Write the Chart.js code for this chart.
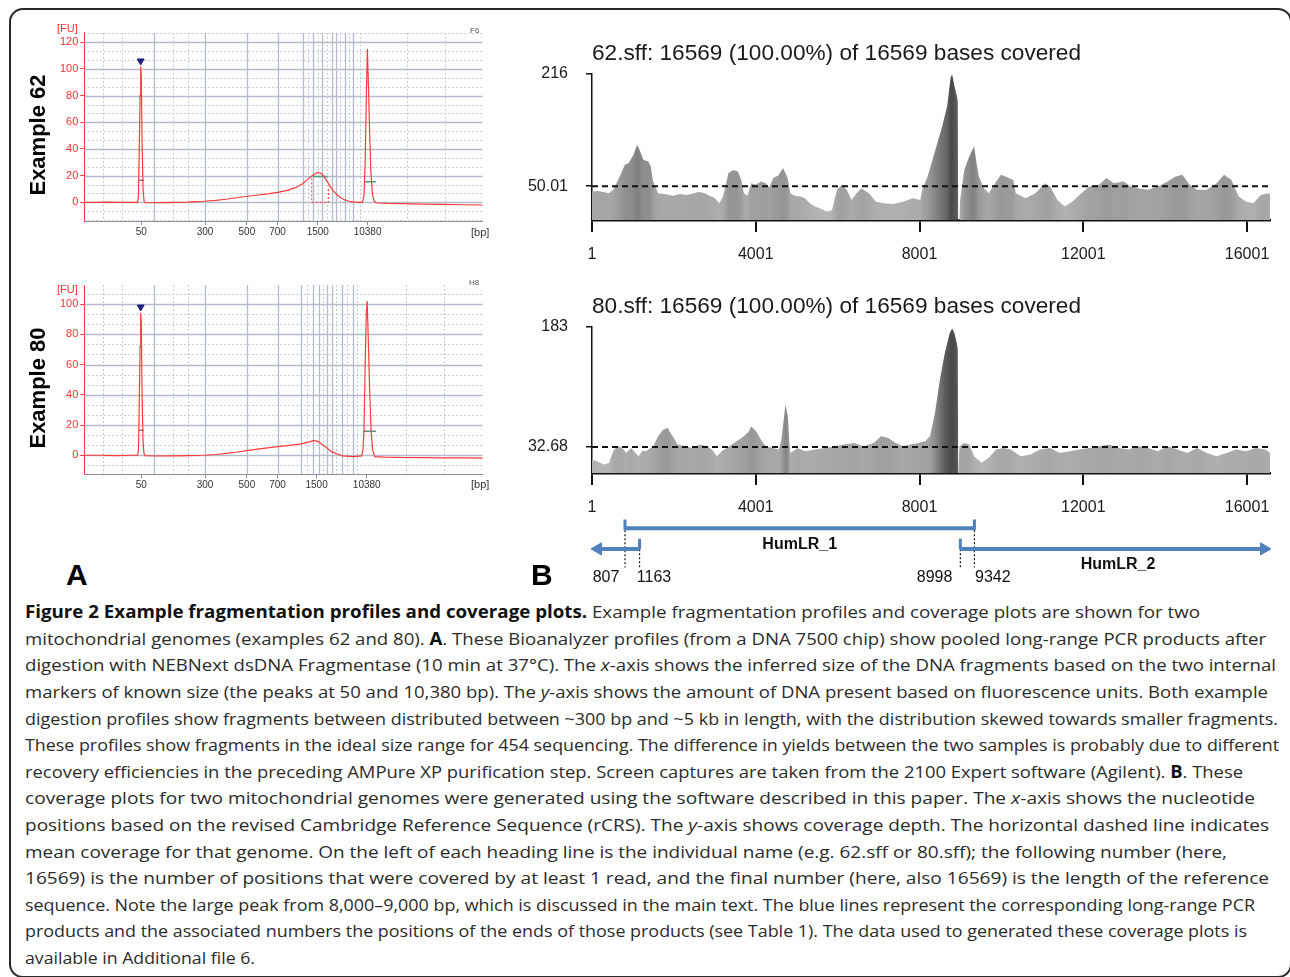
<!DOCTYPE html>
<html>
<head>
<meta charset="utf-8">
<script src="https://cdn.jsdelivr.net/npm/chart.js@4.4.1/dist/chart.umd.min.js"></script>
<style>
  body { margin: 0; width: 1290px; height: 977px; overflow: hidden; position: relative; background: #fff;
         font-family: "Liberation Sans", Arial, sans-serif; }
  canvas { position: absolute; }
  .abs { position: absolute; white-space: nowrap; }
  #frame { position: absolute; left: 9px; top: 8px; width: 1283px; height: 970px; border: 2px solid #2a2a2a;
           border-radius: 14px; box-sizing: border-box; }
  .cap { position: absolute; left: 25px; white-space: nowrap; font-family: "Open Sans", sans-serif; font-size: 17px;
         line-height: 20px; color: #2b2b2b; transform-origin: 0 50%; }
  .cap b { color: #111; }
  .ex { position: absolute; font-weight: bold; font-size: 22px; color: #000; transform: translate(-50%, -50%) rotate(-90deg); }
  .panel { font-weight: bold; font-size: 30px; color: #000; }
  .unit { font-size: 11px; color: #333; }
  .ttl { font-size: 22px; color: #1a1a1a; transform-origin: 0 50%; }
</style>
</head>
<body>
<div id="frame"></div>

<canvas id="a62" width="460" height="230" style="left:40px;top:20px"></canvas>
<canvas id="a80" width="460" height="225" style="left:40px;top:275px"></canvas>
<canvas id="b62" width="770" height="220" style="left:520px;top:55px"></canvas>
<canvas id="b80" width="770" height="220" style="left:520px;top:308px"></canvas>
<canvas id="pcr" width="770" height="90" style="left:520px;top:505px"></canvas>

<div class="ex" style="left:38px;top:135px">Example 62</div>
<div class="ex" style="left:38px;top:388px">Example 80</div>
<div class="abs unit" style="left:57px;top:22px;color:#ff3030">[FU]</div>
<div class="abs unit" style="left:57px;top:283px;color:#ff3030">[FU]</div>
<div class="abs unit" style="left:471px;top:226px">[bp]</div>
<div class="abs unit" style="left:471px;top:478px">[bp]</div>
<div class="abs" style="left:470px;top:26px;font-size:8px;color:#555">F6</div>
<div class="abs" style="left:469px;top:278px;font-size:8px;color:#555">H8</div>
<div class="abs panel" style="left:66px;top:558px">A</div>
<div class="abs panel" style="left:531px;top:558px">B</div>
<div class="abs ttl fit" data-w="489" style="left:592px;top:40px">62.sff: 16569 (100.00%) of 16569 bases covered</div>
<div class="abs ttl fit" data-w="489" style="left:592px;top:293px">80.sff: 16569 (100.00%) of 16569 bases covered</div>

<div class="cap fit" data-w="1175" style="top:602px"><b>Figure 2 Example fragmentation profiles and coverage plots.</b> Example fragmentation profiles and coverage plots are shown for two</div>
<div class="cap fit" data-w="1241" style="top:629px">mitochondrial genomes (examples 62 and 80). <b>A</b>. These Bioanalyzer profiles (from a DNA 7500 chip) show pooled long-range PCR products after</div>
<div class="cap fit" data-w="1251" style="top:655px">digestion with NEBNext dsDNA Fragmentase (10 min at 37°C). The <i>x</i>-axis shows the inferred size of the DNA fragments based on the two internal</div>
<div class="cap fit" data-w="1243" style="top:682px">markers of known size (the peaks at 50 and 10,380 bp). The <i>y</i>-axis shows the amount of DNA present based on fluorescence units. Both example</div>
<div class="cap fit" data-w="1253" style="top:709px">digestion profiles show fragments between distributed between ~300 bp and ~5 kb in length, with the distribution skewed towards smaller fragments.</div>
<div class="cap fit" data-w="1254" style="top:735px">These profiles show fragments in the ideal size range for 454 sequencing. The difference in yields between the two samples is probably due to different</div>
<div class="cap fit" data-w="1218" style="top:762px">recovery efficiencies in the preceding AMPure XP purification step. Screen captures are taken from the 2100 Expert software (Agilent). <b>B</b>. These</div>
<div class="cap fit" data-w="1230" style="top:788px">coverage plots for two mitochondrial genomes were generated using the software described in this paper. The <i>x</i>-axis shows the nucleotide</div>
<div class="cap fit" data-w="1244" style="top:815px">positions based on the revised Cambridge Reference Sequence (rCRS). The <i>y</i>-axis shows coverage depth. The horizontal dashed line indicates</div>
<div class="cap fit" data-w="1202" style="top:842px">mean coverage for that genome. On the left of each heading line is the individual name (e.g. 62.sff or 80.sff); the following number (here,</div>
<div class="cap fit" data-w="1244" style="top:868px">16569) is the number of positions that were covered by at least 1 read, and the final number (here, also 16569) is the length of the reference</div>
<div class="cap fit" data-w="1230" style="top:895px">sequence. Note the large peak from 8,000–9,000 bp, which is discussed in the main text. The blue lines represent the corresponding long-range PCR</div>
<div class="cap fit" data-w="1222" style="top:921px">products and the associated numbers the positions of the ends of those products (see Table 1). The data used to generated these coverage plots is</div>
<div class="cap fit" data-w="230" style="top:948px">available in Additional file 6.</div>

<script>
Chart.defaults.font.family = '"Liberation Sans", Arial, sans-serif';

// ---- Panel A: Bioanalyzer traces, x = migration position (% of the plotted window) ----
const a62Pos = [0, 3, 6, 9, 12, 13.4, 13.6, 13.8, 14.0, 14.15, 14.3, 14.5, 14.75, 15.0, 15.3, 17, 20, 23, 26, 28, 30,
  33, 36, 40, 43, 46, 48.5, 51, 53, 54.8, 56, 57, 58, 58.6, 59.3, 60, 60.8, 61.6, 62.4, 63.3, 64.3, 65.4, 66.5, 67.5,
  69, 69.8, 70.2, 70.5, 70.8, 71.05, 71.3, 71.6, 71.9, 72.3, 72.8, 73.5, 76, 80, 85, 90, 95, 100];
const a62Fu = [0, 0, 0.2, 0, 0, 0, 5, 40, 80, 102, 95, 45, 10, 1, -0.3, -0.3, -0.2, 0, 0.2, 0.5, 0.8,
  1.5, 2.5, 4.2, 5.3, 6.4, 7.5, 9, 11, 14, 17, 19.5, 21.5, 22.5, 22, 20, 16.5, 12.5, 9, 6, 3.5, 1.8, 0.8, 0.3,
  0, 0, 5, 30, 80, 115, 90, 55, 25, 6, 0.5, -0.5, -0.8, -1, -1.3, -1.5, -1.8, -2];
const a62MarkStart = [13.6, 57.3, 70.3];
const a62MarkEnd = [15.0, 61.0, 73.2];
const a62MarkFu = [16.5, 19.3, 15.5];
const a62SmearPos = [57.1, 57.1, 61.3, 61.3];
const a62SmearFu = [18, 0, 0, 11.7];
const a62ArrowPos = [14.15];
const a62ArrowFu = [106];
const a62TickPos = [14.3, 30.3, 40.8, 48.5, 58.6, 71.1];
const a62GridMajor = [17.5, 30.3, 40.8, 48.5, 54.8, 57.5, 59.7, 62.1, 63.2, 65.4, 67.5];
const a62GridMinor = [4.6, 9.4, 22.3, 26.1, 56.2, 58.6, 60.9, 64.3, 66.5, 69.3, 80.9, 90.5];
const a62FuTicks = [0, 20, 40, 60, 80, 100, 120];
const a62FuMinor = [-13.3, -6.7, 6.7, 13.3, 26.7, 33.3, 46.7, 53.3, 66.7, 73.3, 86.7, 93.3, 106.7, 113.3, 126.7];

const a80Pos = [0, 4, 8, 12, 13.4, 13.6, 13.8, 14.0, 14.15, 14.3, 14.5, 14.75, 15.0, 15.3, 18, 22, 26, 30, 33, 35.7,
  38, 40.8, 44, 48.5, 51, 54.5, 56, 57.5, 58.5, 59.6, 60.8, 62.1, 63.5, 64.8, 67.5, 69.6, 69.9, 70.2, 70.5, 70.8,
  71.0, 71.3, 71.6, 72.0, 72.4, 72.9, 75, 80, 85, 90, 95, 100];
const a80Fu = [0, 0, -0.2, 0, 0, 4, 35, 72, 94, 88, 40, 8, 1, -0.3, -0.5, -0.4, -0.2, 0, 0.5, 1.3,
  2, 3.1, 4.2, 5.7, 6.4, 7.5, 8.5, 9.7, 9.3, 7.5, 5, 2.4, 0.8, -0.4, -0.9, -0.4, 2, 15.6, 60, 95,
  102, 75, 45, 15.6, 3, -0.9, -1.2, -1.5, -1.6, -1.7, -1.8, -1.9];
const a80MarkStart = [13.6, 70.0];
const a80MarkEnd = [15.0, 73.2];
const a80MarkFu = [16.5, 15.9];
const a80ArrowPos = [14.15];
const a80ArrowFu = [98];
const a80TickPos = [14.3, 30.3, 40.8, 48.5, 58.3, 70.9];
const a80GridMajor = [17.5, 30.3, 40.8, 48.5, 54.5, 57.3, 58.9, 61.0, 62.1, 64.8, 67.5];
const a80GridMinor = [4.6, 9.4, 22.3, 26.1, 56.0, 60.0, 63.3, 66.0, 68.5, 80.7, 90.3];
const a80FuTicks = [0, 20, 40, 60, 80, 100];
const a80FuMinor = [-6.7, 6.7, 13.3, 26.7, 33.3, 46.7, 53.3, 66.7, 73.3, 86.7, 93.3, 106.7];

const sizeLabels = ['50', '300', '500', '700', '1500', '10380'];

// ---- Panel B: coverage depth along the mitogenome ----
const cov62Pos = [1, 150, 300, 419, 520, 598, 718, 802, 898, 1017, 1101, 1161, 1257, 1376, 1436, 1496, 1616, 1800,
  1975, 2150, 2300, 2450, 2600, 2750, 2870, 2992, 3111, 3200, 3260, 3330, 3450, 3560, 3650, 3710, 3800, 3890, 4000,
  4130, 4250, 4330, 4430, 4550, 4667, 4780, 4847, 4950, 5090, 5200, 5325, 5450, 5565, 5744, 5864, 5984, 6104, 6223,
  6343, 6462, 6582, 6762, 6941, 7121, 7360, 7599, 7838, 8018, 8078, 8197, 8317, 8437, 8556, 8676, 8760, 8796, 8856,
  8915, 8935, 8945, 8975, 8990, 9095, 9215, 9335, 9394, 9454, 9574, 9693, 9873, 9992, 10112, 10292, 10352, 10591,
  10830, 11069, 11189, 11369, 11548, 11728, 11907, 12147, 12386, 12566, 12745, 12985, 13164, 13343, 13582, 13822,
  14061, 14241, 14420, 14600, 14779, 15018, 15258, 15438, 15617, 15797, 15976, 16156, 16335, 16515, 16569];
const cov62Depth = [42, 43, 41, 39.6, 45, 54.5, 69.4, 81.8, 84.2, 96.6, 111.5, 104, 89.2, 86.7, 79.3, 57, 39.6, 38,
  36, 38.5, 37, 39, 41.5, 40, 36, 33, 24.8, 35, 49.5, 69, 74, 72, 59, 39.6, 36, 54.5, 52,
  57, 54.5, 48, 62, 66, 76.8, 62, 39.6, 36, 34.7, 32, 24.8, 20, 17.3, 12.4, 14.9, 44.6, 52, 44.6,
  29.7, 39.6, 47, 39.6, 27, 24.8, 23.8, 27, 32, 29.7, 47, 64, 89, 114, 138.7, 168.5, 210.6, 215.5, 198,
  183, 175, 0, 0, 29.7, 74, 94, 109, 84, 64, 47, 39.6, 57, 67, 64, 59, 39.6, 32,
  39.6, 54.5, 49.5, 29.7, 19.8, 27, 37, 49.5, 52, 62, 54.5, 57, 49.5, 47, 44.6, 49.5,
  57, 64, 67, 52, 44.6, 44.6, 54.5, 67, 59.5, 34.7, 27, 24.8, 37, 39.6, 38];
const cov62Mean = 50.01;
const cov62Max = 216;

const cov80Pos = [1, 120, 300, 420, 480, 540, 658, 760, 838, 957, 1050, 1137, 1230, 1316, 1400, 1496, 1616, 1735, 1855,
  1915, 1975, 2094, 2274, 2453, 2633, 2812, 2932, 3052, 3171, 3351, 3530, 3710, 3830, 3889, 4009, 4129, 4248, 4428,
  4560, 4620, 4667, 4727, 4787, 4820, 4847, 5026, 5206, 5445, 5684, 5924, 6163, 6402, 6642, 6881, 7061, 7240, 7420,
  7599, 7779, 7958, 8138, 8257, 8377, 8497, 8616, 8736, 8796, 8856, 8915, 8935, 8945, 8965, 8975, 9095, 9215, 9335,
  9514, 9693, 9873, 10052, 10232, 10471, 10710, 10950, 11189, 11428, 11668, 11907, 12147, 12386, 12625, 12865, 13104,
  13343, 13582, 13822, 14061, 14300, 14540, 14779, 15018, 15258, 15497, 15737, 15976, 16216, 16455, 16569];
const cov80Depth = [16.9, 14.8, 10.7, 12.7, 22, 29.4, 33.5, 30, 25.2, 31.4, 26, 21, 28, 27.3, 30, 33.5, 46, 54.3, 56.4,
  50, 46, 35.6, 33.5, 31.4, 35.6, 33.5, 29.4, 21, 27.3, 33.5, 39.7, 46, 52, 58.4, 52.2, 41.8, 33.5, 31.4,
  29.4, 40, 60, 85.4, 70.9, 40, 25.2, 31.4, 27.3, 29.4, 31.4, 33.5, 35.6, 37.7, 33.5, 37.7, 46, 43.9, 37.7,
  33.5, 35.6, 37.7, 39.7, 46, 75, 116.6, 149.8, 174.7, 181, 174.7, 162, 155, 0, 0, 33.5, 37.7, 35.6, 21,
  12.7, 19, 29.4, 31.4, 29.4, 21, 23.1, 29.4, 31.4, 25.2, 27.3, 29.4, 31.4, 33.5, 35.6, 31.4, 29.4,
  33.5, 31.4, 27.3, 33.5, 29.4, 25.2, 31.4, 25.2, 21, 25.2, 29.4, 27.3, 31.4, 29.4, 25.2];
const cov80Mean = 32.68;
const cov80Max = 183;

const genomeLen = 16569;
const genomeTicks = [1, 4001, 8001, 12001, 16001];

// ---- long-range PCR products (positions on rCRS) ----
const pcrBarStart = [807, 8998, 1163];
const pcrBarEnd = [9342, 16414, 147];
const pcrBarRow = [5.4, 3.25, 3.25];
const pcrCapPos = [807, 9342, 1163, 8998];
const pcrCapTop = [6.33, 6.33, 4.32, 4.32];
const pcrCapBottom = [5.2, 5.2, 3.2, 3.2];
const pcrEndPos = [807, 1163, 8998, 9342];
const pcrEndTop = [5.2, 3.2, 3.2, 5.2];
const pcrEndBottom = 1.3;
const pcrArrowPos = [16414, 147];
const pcrArrowRot = [90, -90];
const pcrLabelText = ['HumLR_1', 'HumLR_2', '807', '1163', '8998', '9342'];
const pcrLabelPos = [5074, 12849, 343, 1515, 8369, 9791];
const pcrLabelRow = [3.65, 1.6, 0.3, 0.3, 0.3, 0.3];
const pcrLabelBold = [true, true, false, false, false, false];

const toXY = (xs, ys) => xs.map((x, i) => ({x, y: ys[i]}));
const hSegments = (s, e, lv) => s.flatMap((x, i) => [{x, y: lv[i]}, {x: e[i], y: lv[i]}, {x: e[i], y: null}]);
const vSegments = (p, top, bot) => p.flatMap((x, i) => [{x, y: top[i]}, {x, y: bot[i]}, {x, y: null}]);
const noPad = (s) => { s.paddingTop = 0; s.paddingBottom = 0; s.paddingLeft = 0; s.paddingRight = 0; };

function gridPlugin(g) {
  return {
    id: 'bioGrid',
    beforeDatasetsDraw(chart) {
      const {ctx, chartArea: a, scales: {x, y}} = chart;
      ctx.save();
      ctx.beginPath();
      ctx.rect(a.left, a.top, a.width, a.height);
      ctx.clip();
      const draw = (vals, vertical, color, dash, w) => {
        ctx.strokeStyle = color;
        ctx.lineWidth = w;
        ctx.setLineDash(dash);
        vals.forEach((v) => {
          ctx.beginPath();
          if (vertical) {
            const p = Math.round(x.getPixelForValue(v)) + 0.5;
            ctx.moveTo(p, a.top); ctx.lineTo(p, a.bottom);
          } else {
            const p = Math.round(y.getPixelForValue(v)) + 0.5;
            ctx.moveTo(a.left, p); ctx.lineTo(a.right, p);
          }
          ctx.stroke();
        });
      };
      draw(g.xMinor, true, '#c6c9cf', [2, 2], 1);
      draw(g.yMinor, false, '#c6c9cf', [2, 2], 1);
      draw(g.xMajor, true, '#b3bccc', [], 1.3);
      draw(g.yMajor, false, '#b3bccc', [], 1.3);
      ctx.restore();
    },
  };
}

function bioChart(id, d) {
  return new Chart(document.getElementById(id), {
    type: 'line',
    data: {
      datasets: [
        {data: toXY(d.pos, d.fu), borderColor: '#ff3a3a', borderWidth: 1.2, pointRadius: 0, tension: 0},
        {data: hSegments(d.markStart, d.markEnd, d.markFu), borderColor: '#4f9a86', borderWidth: 1.5, pointRadius: 0},
        {data: d.smear, borderColor: '#ff3a3a', borderWidth: 1, borderDash: [2, 2], pointRadius: 0},
        {type: 'scatter', data: toXY(d.arrowPos, d.arrowFu), pointStyle: 'triangle', rotation: 180, radius: 4,
          backgroundColor: '#1f1f80', borderColor: '#1f1f80'},
      ],
    },
    options: {
      animation: false, responsive: false,
      layout: {padding: {top: d.padTop, right: 17.3, left: 0, bottom: 0}},
      plugins: {legend: {display: false}, tooltip: {enabled: false}},
      scales: {
        x: {
          type: 'linear', min: 0, max: 100,
          afterBuildTicks: (s) => { s.ticks = d.tickPos.map((v) => ({value: v})); },
          afterFit: (s) => { s.height = d.xH; noPad(s); },
          ticks: {callback: (v, i) => sizeLabels[i], font: {size: 10}, color: '#333', padding: 1, autoSkip: false, maxRotation: 0},
          grid: {drawOnChartArea: false, tickLength: 4, color: '#8a8f99'},
          border: {color: '#8a8f99', width: 1},
        },
        y: {
          min: d.yMin, max: d.yMax,
          afterBuildTicks: (s) => { s.ticks = d.fuTicks.map((v) => ({value: v})); },
          afterFit: (s) => { s.width = 44.3; noPad(s); },
          ticks: {color: '#ff3030', font: {size: 11}, padding: 2},
          grid: {drawOnChartArea: false, tickLength: 4, color: '#ff3030'},
          border: {color: '#ff3030', width: 1},
        },
      },
    },
    plugins: [gridPlugin({xMajor: d.gridMajor, xMinor: d.gridMinor, yMajor: d.fuTicks, yMinor: d.fuMinor})],
  });
}

bioChart('a62', {
  pos: a62Pos, fu: a62Fu, markStart: a62MarkStart, markEnd: a62MarkEnd, markFu: a62MarkFu,
  smear: toXY(a62SmearPos, a62SmearFu), arrowPos: a62ArrowPos, arrowFu: a62ArrowFu,
  tickPos: a62TickPos, gridMajor: a62GridMajor, gridMinor: a62GridMinor, fuTicks: a62FuTicks, fuMinor: a62FuMinor,
  yMin: -14, yMax: 127.2, padTop: 12.7, xH: 29,
});
bioChart('a80', {
  pos: a80Pos, fu: a80Fu, markStart: a80MarkStart, markEnd: a80MarkEnd, markFu: a80MarkFu,
  smear: [], arrowPos: a80ArrowPos, arrowFu: a80ArrowFu,
  tickPos: a80TickPos, gridMajor: a80GridMajor, gridMinor: a80GridMinor, fuTicks: a80FuTicks, fuMinor: a80FuMinor,
  yMin: -12.6, yMax: 112.6, padTop: 10, xH: 25.7,
});

// grey shading gets darker where the depth is higher
function shadeFill(chart, pos, depth, vmax) {
  const a = chart.chartArea;
  if (!a) return '#aaa';
  const xs = chart.scales.x;
  const g = chart.ctx.createLinearGradient(a.left, 0, a.right, 0);
  pos.forEach((p, i) => {
    const f = Math.min(1, Math.max(0, (xs.getPixelForValue(p) - a.left) / a.width));
    const c = Math.round(188 - 115 * depth[i] / vmax);
    g.addColorStop(f, `rgb(${c},${c},${c})`);
  });
  return g;
}

function coverageChart(id, pos, depth, mean, vmax) {
  return new Chart(document.getElementById(id), {
    type: 'line',
    data: {
      datasets: [
        {data: [{x: 1, y: mean}, {x: genomeLen, y: mean}], borderColor: '#111', borderWidth: 2,
          borderDash: [6, 4], pointRadius: 0, order: 0},
        {data: toXY(pos, depth), fill: 'origin', borderWidth: 0, pointRadius: 0, tension: 0, order: 1,
          backgroundColor: (c) => shadeFill(c.chart, pos, depth, vmax)},
      ],
    },
    options: {
      animation: false, responsive: false,
      layout: {padding: {top: 19, right: 19.7, left: 0, bottom: 0}},
      plugins: {legend: {display: false}, tooltip: {enabled: false}},
      scales: {
        x: {
          type: 'linear', min: 1, max: genomeLen,
          afterBuildTicks: (s) => { s.ticks = genomeTicks.map((v) => ({value: v})); },
          afterFit: (s) => { s.height = 55; noPad(s); },
          ticks: {font: {size: 16}, color: '#1a1a1a', padding: 13, autoSkip: false, maxRotation: 0,
            callback: (v) => String(v)},
          grid: {drawOnChartArea: false, tickLength: 12, lineWidth: 2, color: '#111'},
          border: {color: '#111', width: 2.5},
        },
        y: {
          min: 0, max: vmax,
          afterBuildTicks: (s) => { s.ticks = [mean, vmax].map((v) => ({value: v})); },
          afterFit: (s) => { s.width = 72; noPad(s); },
          ticks: {font: {size: 16}, color: '#1a1a1a', padding: 18, callback: (v) => String(v)},
          grid: {drawOnChartArea: false, tickLength: 6, lineWidth: 1.5, color: '#111'},
          border: {color: '#111', width: 1.5},
        },
      },
    },
  });
}

coverageChart('b62', cov62Pos, cov62Depth, cov62Mean, cov62Max);
coverageChart('b80', cov80Pos, cov80Depth, cov80Mean, cov80Max);

const pcrLabels = {
  id: 'pcrLabels',
  afterDatasetsDraw(chart) {
    const {ctx, scales: {x, y}} = chart;
    ctx.save();
    ctx.fillStyle = '#111';
    ctx.textAlign = 'center';
    ctx.textBaseline = 'middle';
    pcrLabelText.forEach((t, i) => {
      ctx.font = (pcrLabelBold[i] ? 'bold ' : '') + '16px "Liberation Sans", Arial, sans-serif';
      ctx.fillText(t, x.getPixelForValue(pcrLabelPos[i]), y.getPixelForValue(pcrLabelRow[i]));
    });
    ctx.restore();
  },
};

new Chart(document.getElementById('pcr'), {
  type: 'line',
  data: {
    datasets: [
      {data: hSegments(pcrBarStart, pcrBarEnd, pcrBarRow), borderColor: '#4f81bd', borderWidth: 4,
        pointRadius: 0, clip: false},
      {data: vSegments(pcrCapPos, pcrCapTop, pcrCapBottom), borderColor: '#4f81bd', borderWidth: 3,
        pointRadius: 0, clip: false},
      {data: vSegments(pcrEndPos, pcrEndTop, pcrEndPos.map(() => pcrEndBottom)), borderColor: '#111',
        borderWidth: 1.2, borderDash: [2, 2], pointRadius: 0, clip: false},
      {type: 'scatter', data: toXY(pcrArrowPos, pcrArrowPos.map(() => pcrBarRow[1])), pointStyle: 'triangle',
        rotation: pcrArrowRot, radius: 7, backgroundColor: '#4f81bd', borderColor: '#4f81bd', clip: false},
    ],
  },
  options: {
    animation: false, responsive: false,
    layout: {padding: {left: 72, right: 19.7, top: 5, bottom: 15}},
    plugins: {legend: {display: false}, tooltip: {enabled: false}},
    scales: {
      x: {type: 'linear', min: 1, max: genomeLen, display: false},
      y: {min: 0, max: 7, display: false},
    },
  },
  plugins: [pcrLabels],
});

// stretch each text line to the width it takes in the figure
function fitText() {
  document.querySelectorAll('.fit').forEach((el) => {
    el.style.transform = 'none';
    const w = el.getBoundingClientRect().width;
    el.style.transform = `scaleX(${Number(el.dataset.w) / w})`;
  });
}
fitText();
if (document.fonts && document.fonts.ready) document.fonts.ready.then(fitText);
</script>
</body>
</html>
